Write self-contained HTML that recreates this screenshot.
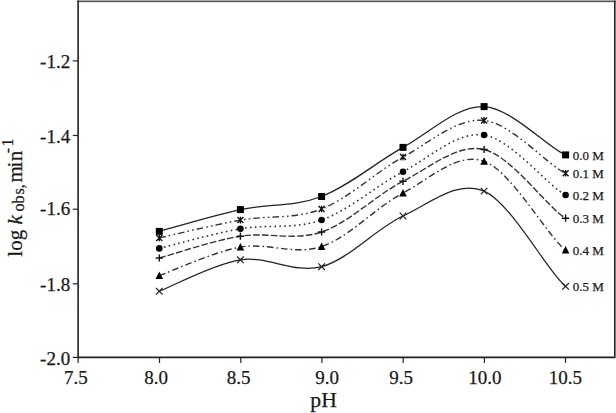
<!DOCTYPE html><html><head><meta charset="utf-8"><style>html,body{margin:0;padding:0;background:#fff;overflow:hidden}svg{display:block}text{font-family:"Liberation Serif",serif;fill:#1a1a1a;stroke:#1a1a1a;stroke-width:0.25px}</style></head><body>
<svg width="616" height="413" viewBox="0 0 616 413">
<rect width="616" height="413" fill="#fff"/>
<rect x="77.30" y="0" width="538.30" height="1" fill="#a8a8a8"/><rect x="77.30" y="1" width="538.30" height="1" fill="#555"/><rect x="77.30" y="2" width="538.30" height="1" fill="#e4e4e4"/>
<path d="M78.10 0.5V357.40H614.80V0.5" fill="none" stroke="#222" stroke-width="1.6"/>
<path d="M72.80 60.90H78.10" stroke="#222" stroke-width="1.2"/>
<text x="70.2" y="68.00" font-size="19" text-anchor="end">-1.2</text>
<path d="M72.80 135.50H78.10" stroke="#222" stroke-width="1.2"/>
<text x="70.2" y="142.60" font-size="19" text-anchor="end">-1.4</text>
<path d="M72.80 209.20H78.10" stroke="#222" stroke-width="1.2"/>
<text x="70.2" y="215.00" font-size="19" text-anchor="end">-1.6</text>
<path d="M72.80 283.80H78.10" stroke="#222" stroke-width="1.2"/>
<text x="70.2" y="290.60" font-size="19" text-anchor="end">-1.8</text>
<path d="M72.80 357.40H78.10" stroke="#222" stroke-width="1.2"/>
<text x="70.2" y="365.30" font-size="19" text-anchor="end">-2.0</text>
<path d="M78.10 357.40V362.90" stroke="#222" stroke-width="1.2"/>
<text x="75.80" y="383.8" font-size="19" text-anchor="middle">7.5</text>
<path d="M159.50 357.40V362.90" stroke="#222" stroke-width="1.2"/>
<text x="156.10" y="383.8" font-size="19" text-anchor="middle">8.0</text>
<path d="M240.80 357.40V362.90" stroke="#222" stroke-width="1.2"/>
<text x="238.60" y="383.8" font-size="19" text-anchor="middle">8.5</text>
<path d="M321.90 357.40V362.90" stroke="#222" stroke-width="1.2"/>
<text x="327.00" y="383.8" font-size="19" text-anchor="middle">9.0</text>
<path d="M403.20 357.40V362.90" stroke="#222" stroke-width="1.2"/>
<text x="401.00" y="383.8" font-size="19" text-anchor="middle">9.5</text>
<path d="M484.40 357.40V362.90" stroke="#222" stroke-width="1.2"/>
<text x="484.80" y="383.8" font-size="19" text-anchor="middle">10.0</text>
<path d="M565.50 357.40V362.90" stroke="#222" stroke-width="1.2"/>
<text x="565.40" y="383.8" font-size="19" text-anchor="middle">10.5</text>
<text x="323.6" y="406.7" font-size="21.7" text-anchor="middle">pH</text>
<text transform="translate(22 256.7) rotate(-90)" font-size="21">log <tspan font-style="italic">k</tspan><tspan font-size="16" dy="1.6" dx="3.7 0 1.0 0">obs,</tspan><tspan dy="-1.6" dx="1.9 -1.3 0.2">min</tspan><tspan font-size="16" dy="-9" dx="-2.5 1.5">-1</tspan></text>
<path d="M159.30 231.40 C172.82 227.77 213.35 215.42 240.40 209.60 C267.45 203.78 294.50 206.87 321.60 196.50 C348.70 186.13 375.92 162.38 403.00 147.40 C430.08 132.42 457.00 105.35 484.10 106.60 C511.20 107.85 549.03 148.62 565.60 154.90" fill="none" stroke="#222" stroke-width="1.25"/>
<path d="M159.30 237.90 C172.82 234.93 213.35 224.92 240.40 220.10 C267.45 215.28 294.50 219.50 321.60 209.00 C348.70 198.50 375.92 171.87 403.00 157.10 C430.08 142.33 457.00 117.72 484.10 120.40 C511.20 123.08 549.03 166.34 565.60 173.20" fill="none" stroke="#333" stroke-width="1.40" stroke-dasharray="6.6 3.2 1.6 3.2 1.6 3.0"/>
<path d="M159.30 248.40 C172.82 245.13 213.35 233.53 240.40 228.80 C267.45 224.07 294.50 229.52 321.60 220.00 C348.70 210.48 375.92 185.87 403.00 171.70 C430.08 157.53 457.00 131.12 484.10 135.00 C511.20 138.88 549.03 187.20 565.60 195.00" fill="none" stroke="#333" stroke-width="1.60" stroke-dasharray="1.6 3.3"/>
<path d="M159.30 258.00 C172.82 254.37 213.35 240.53 240.40 236.20 C267.45 231.87 294.50 241.15 321.60 232.00 C348.70 222.85 375.92 195.05 403.00 181.30 C430.08 167.55 457.00 143.35 484.10 149.50 C511.20 155.65 549.03 209.27 565.60 218.20" fill="none" stroke="#333" stroke-width="1.40" stroke-dasharray="6.6 2.2"/>
<path d="M159.30 275.60 C172.82 270.85 213.35 251.93 240.40 247.10 C267.45 242.27 294.50 255.62 321.60 246.60 C348.70 237.58 375.92 207.23 403.00 193.00 C430.08 178.77 457.00 151.70 484.10 161.20 C511.20 170.70 549.03 238.46 565.60 250.00" fill="none" stroke="#333" stroke-width="1.40" stroke-dasharray="6.5 3 1.6 3"/>
<path d="M159.30 291.30 C172.82 286.05 213.35 263.90 240.40 259.80 C267.45 255.70 294.50 274.00 321.60 266.70 C348.70 259.40 375.92 228.60 403.00 216.00 C430.08 203.40 457.00 179.38 484.10 191.10 C511.20 202.82 549.03 273.92 565.60 286.30" fill="none" stroke="#222" stroke-width="1.25"/>
<rect x="155.80" y="227.90" width="7" height="7" fill="#000"/>
<rect x="236.90" y="206.10" width="7" height="7" fill="#000"/>
<rect x="318.10" y="193.00" width="7" height="7" fill="#000"/>
<rect x="399.50" y="143.90" width="7" height="7" fill="#000"/>
<rect x="480.60" y="103.10" width="7" height="7" fill="#000"/>
<rect x="562.10" y="151.40" width="7" height="7" fill="#000"/>
<text x="572.8" y="159.50" font-size="13">0.0 M</text>
<path d="M156.30 234.90L162.30 240.90M156.30 240.90L162.30 234.90M159.30 234.60L159.30 241.20" stroke="#111" stroke-width="1.35" fill="none"/>
<path d="M237.40 217.10L243.40 223.10M237.40 223.10L243.40 217.10M240.40 216.80L240.40 223.40" stroke="#111" stroke-width="1.35" fill="none"/>
<path d="M318.60 206.00L324.60 212.00M318.60 212.00L324.60 206.00M321.60 205.70L321.60 212.30" stroke="#111" stroke-width="1.35" fill="none"/>
<path d="M400.00 154.10L406.00 160.10M400.00 160.10L406.00 154.10M403.00 153.80L403.00 160.40" stroke="#111" stroke-width="1.35" fill="none"/>
<path d="M481.10 117.40L487.10 123.40M481.10 123.40L487.10 117.40M484.10 117.10L484.10 123.70" stroke="#111" stroke-width="1.35" fill="none"/>
<path d="M562.60 170.20L568.60 176.20M562.60 176.20L568.60 170.20M565.60 169.90L565.60 176.50" stroke="#111" stroke-width="1.35" fill="none"/>
<text x="572.8" y="177.80" font-size="13">0.1 M</text>
<circle cx="159.30" cy="248.40" r="3.3" fill="#000"/>
<circle cx="240.40" cy="228.80" r="3.3" fill="#000"/>
<circle cx="321.60" cy="220.00" r="3.3" fill="#000"/>
<circle cx="403.00" cy="171.70" r="3.3" fill="#000"/>
<circle cx="484.10" cy="135.00" r="3.3" fill="#000"/>
<circle cx="565.60" cy="195.00" r="3.3" fill="#000"/>
<text x="572.8" y="199.60" font-size="13">0.2 M</text>
<path d="M155.70 258.00L162.90 258.00M159.30 254.40L159.30 261.60" stroke="#111" stroke-width="1.4" fill="none"/>
<path d="M236.80 236.20L244.00 236.20M240.40 232.60L240.40 239.80" stroke="#111" stroke-width="1.4" fill="none"/>
<path d="M318.00 232.00L325.20 232.00M321.60 228.40L321.60 235.60" stroke="#111" stroke-width="1.4" fill="none"/>
<path d="M399.40 181.30L406.60 181.30M403.00 177.70L403.00 184.90" stroke="#111" stroke-width="1.4" fill="none"/>
<path d="M480.50 149.50L487.70 149.50M484.10 145.90L484.10 153.10" stroke="#111" stroke-width="1.4" fill="none"/>
<path d="M562.00 218.20L569.20 218.20M565.60 214.60L565.60 221.80" stroke="#111" stroke-width="1.4" fill="none"/>
<text x="572.8" y="222.80" font-size="13">0.3 M</text>
<path d="M159.30 271.60L163.10 279.10L155.50 279.10Z" fill="#000"/>
<path d="M240.40 243.10L244.20 250.60L236.60 250.60Z" fill="#000"/>
<path d="M321.60 242.60L325.40 250.10L317.80 250.10Z" fill="#000"/>
<path d="M403.00 189.00L406.80 196.50L399.20 196.50Z" fill="#000"/>
<path d="M484.10 157.20L487.90 164.70L480.30 164.70Z" fill="#000"/>
<path d="M565.60 246.00L569.40 253.50L561.80 253.50Z" fill="#000"/>
<text x="572.8" y="254.60" font-size="13">0.4 M</text>
<path d="M156.00 288.00L162.60 294.60M156.00 294.60L162.60 288.00" stroke="#222" stroke-width="1.2" fill="none"/>
<path d="M237.10 256.50L243.70 263.10M237.10 263.10L243.70 256.50" stroke="#222" stroke-width="1.2" fill="none"/>
<path d="M318.30 263.40L324.90 270.00M318.30 270.00L324.90 263.40" stroke="#222" stroke-width="1.2" fill="none"/>
<path d="M399.70 212.70L406.30 219.30M399.70 219.30L406.30 212.70" stroke="#222" stroke-width="1.2" fill="none"/>
<path d="M480.80 187.80L487.40 194.40M480.80 194.40L487.40 187.80" stroke="#222" stroke-width="1.2" fill="none"/>
<path d="M562.30 283.00L568.90 289.60M562.30 289.60L568.90 283.00" stroke="#222" stroke-width="1.2" fill="none"/>
<text x="572.8" y="290.90" font-size="13">0.5 M</text>
</svg></body></html>
